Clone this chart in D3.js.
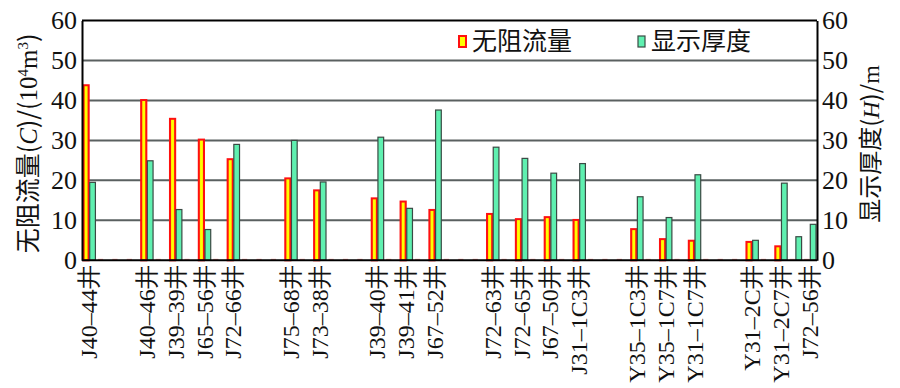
<!DOCTYPE html>
<html>
<head>
<meta charset="utf-8">
<script src="https://cdn.jsdelivr.net/npm/d3@7"></script>
<style>
  body { margin: 0; background: #fff; }
  svg { display: block; }
</style>
</head>
<body>
<svg id="chart" width="900" height="388"></svg>
<script>
// 51 category slots; empty names are gap slots
const wells = [
  'J40–44井', '', '', '', 'J40–46井', '', 'J39–39井', '', 'J65–56井', '', 'J72–66井',
  '', '', '', 'J75–68井', '', 'J73–38井', '', '', '', 'J39–40井', '', 'J39–41井', '',
  'J67–52井', '', '', '', 'J72–63井', '', 'J72–65井', '', 'J67–50井', '', 'J31–1C3井',
  '', '', '', 'Y35–1C3井', '', 'Y35–1C7井', '', 'Y31–1C7井', '', '', '', 'Y31–2C井',
  '', 'Y31–2C7井', '', 'J72–56井'
];
const flow = [
  43.8, 0, 0, 0, 40.1, 0, 35.4, 0, 30.2, 0, 25.3,
  0, 0, 0, 20.5, 0, 17.5, 0, 0, 0, 15.5, 0, 14.7, 0,
  12.6, 0, 0, 0, 11.6, 0, 10.3, 0, 10.8, 0, 10.1,
  0, 0, 0, 7.8, 0, 5.3, 0, 4.9, 0, 0, 0, 4.6,
  0, 3.5, 0, 0
];
const thickness = [
  19.5, 0, 0, 0, 24.9, 0, 12.7, 0, 7.7, 0, 29,
  0, 0, 0, 30, 0, 19.6, 0, 0, 0, 30.8, 0, 13, 0,
  37.6, 0, 0, 0, 28.3, 0, 25.5, 0, 21.8, 0, 24.2,
  0, 0, 0, 15.9, 0, 10.7, 0, 21.4, 0, 0, 0, 5.0,
  0, 19.3, 5.9, 9.0
];
const yTicks = [0, 10, 20, 30, 40, 50, 60];
const seriesNames = ['无阻流量', '显示厚度'];

const margin = { top: 20.5, right: 83, bottom: 130, left: 82 };
const width = 900, height = 388;
const serif = '"Liberation Serif", "DejaVu Serif", serif';
const cjk = '"Noto Sans CJK SC", sans-serif';
const svg = d3.select('#chart');

const defs = svg.append('defs');
const grad = defs.append('linearGradient').attr('id', 'redgrad')
  .attr('x1', '0%').attr('x2', '100%');
grad.append('stop').attr('offset', '0%').attr('stop-color', '#ff8c00');
grad.append('stop').attr('offset', '35%').attr('stop-color', '#ffff00');
grad.append('stop').attr('offset', '65%').attr('stop-color', '#ffff00');
grad.append('stop').attr('offset', '100%').attr('stop-color', '#ff8c00');

const x = d3.scaleBand()
  .domain(d3.range(wells.length))
  .range([margin.left, width - margin.right])
  .padding(0);

const y = d3.scaleLinear()
  .domain([0, 60])
  .range([height - margin.bottom + 2.3, margin.top]);

// gridlines
svg.append('g')
  .selectAll('line')
  .data(yTicks.slice(1, -1))
  .join('line')
    .attr('x1', margin.left).attr('x2', width - margin.right)
    .attr('y1', d => y(d)).attr('y2', d => y(d))
    .attr('stroke', '#5a6060').attr('stroke-width', 2);

const half = x.bandwidth() / 2;

// red bars (flow); zero values leave a faint pink dash on the baseline
svg.append('g')
  .selectAll('rect')
  .data(flow.map((v, i) => ({ v, i })))
  .join('rect')
    .attr('x', d => x(d.i) + 1.5)
    .attr('width', half - 2)
    .attr('y', d => d.v > 0 ? y(d.v) : y(0) - 1.5)
    .attr('height', d => d.v > 0 ? y(0) - y(d.v) : 1.5)
    .attr('fill', d => d.v > 0 ? 'url(#redgrad)' : '#f5a0a0')
    .attr('stroke', d => d.v > 0 ? '#ff1010' : 'none')
    .attr('stroke-width', 2);

// green bars (thickness)
svg.append('g')
  .selectAll('rect')
  .data(thickness.map((v, i) => ({ v, i })).filter(d => d.v > 0))
  .join('rect')
    .attr('x', d => x(d.i) + half + 0.5)
    .attr('width', half - 1.5)
    .attr('y', d => y(d.v))
    .attr('height', d => y(0) - y(d.v))
    .attr('fill', '#5ff0b0')
    .attr('stroke', '#3a4a44')
    .attr('stroke-width', 1.2);

// frame
const x0 = margin.left, x1 = width - margin.right;
svg.append('line').attr('x1', x0).attr('x2', x1).attr('y1', y(60)).attr('y2', y(60))
  .attr('stroke', '#000').attr('stroke-width', 2);
svg.append('line').attr('x1', x0).attr('x2', x1).attr('y1', y(0)).attr('y2', y(0))
  .attr('stroke', '#000').attr('stroke-width', 2);

// axes
const leftAxis = svg.append('g')
  .attr('transform', `translate(${x0},0)`)
  .call(d3.axisLeft(y).tickValues(yTicks).tickSize(0).tickPadding(5));
const rightAxis = svg.append('g')
  .attr('transform', `translate(${x1},0)`)
  .call(d3.axisRight(y).tickValues(yTicks).tickSize(0).tickPadding(5));
[leftAxis, rightAxis].forEach(g => {
  g.attr('font-family', null).attr('font-size', null);
  g.select('.domain').attr('stroke', '#000').attr('stroke-width', 2);
  g.selectAll('text')
    .style('font-family', serif)
    .style('font-size', '26px')
    .attr('fill', '#111');
});

// x labels
svg.append('g')
  .selectAll('text')
  .data(wells)
  .join('text')
    .attr('transform', (d, i) => `translate(${x(i) + half + 8},${y(0) + 5}) rotate(-90)`)
    .attr('text-anchor', 'end')
    .style('font-family', serif)
    .style('font-size', '24px')
    .attr('fill', '#111')
    .text(d => d);

// axis titles
svg.append('text')
  .attr('transform', `translate(37,${(y(0) + y(60)) / 2 + 3}) rotate(-90)`)
  .attr('text-anchor', 'middle')
  .style('font-family', cjk)
  .style('font-size', '25px')
  .attr('fill', '#111')
  .html('无阻流量(<tspan style=\'font-family:' + serif + ';font-style:italic\'>C</tspan>)/(<tspan style=\'font-family:' + serif + '\'>10<tspan dy="-9" font-size="15">4</tspan><tspan dy="9">m</tspan><tspan dy="-9" font-size="15">3</tspan></tspan><tspan dy="9">)</tspan>');

svg.append('text')
  .attr('transform', 'translate(879,144) rotate(-90)')
  .attr('text-anchor', 'middle')
  .style('font-family', cjk)
  .style('font-size', '24px')
  .attr('fill', '#111')
  .html('显示厚度(<tspan style=\'font-family:' + serif + ';font-style:italic\'>H</tspan>)/<tspan style=\'font-family:' + serif + '\'>m</tspan>');

// legend
const legend = svg.append('g')
  .selectAll('g')
  .data(seriesNames)
  .join('g')
    .attr('transform', (d, i) => `translate(${[459, 638][i]},36)`);
legend.append('rect')
  .attr('width', 7).attr('height', 11)
  .attr('fill', (d, i) => i === 0 ? '#ffff00' : '#5ff0b0')
  .attr('stroke', (d, i) => i === 0 ? '#ff1010' : '#3a4a44')
  .attr('stroke-width', (d, i) => i === 0 ? 2 : 1.2);
legend.append('text')
  .attr('x', 13).attr('y', 14)
  .style('font-family', cjk)
  .style('font-size', '25px')
  .attr('fill', '#111')
  .text(d => d);
</script>
</body>
</html>
